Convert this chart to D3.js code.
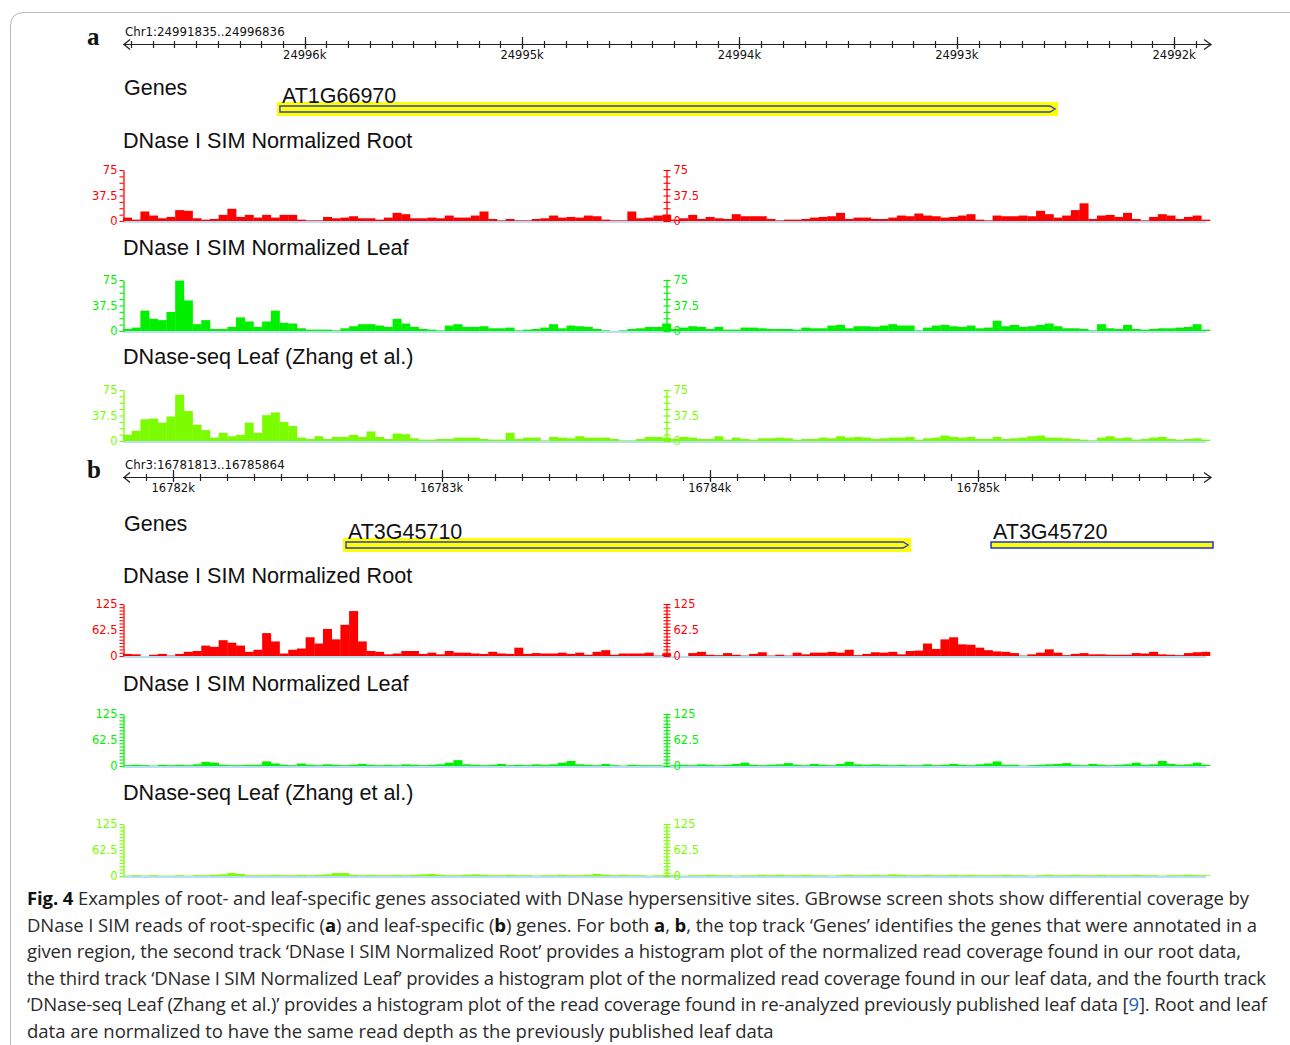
<!DOCTYPE html>
<html><head><meta charset="utf-8">
<script src="https://cdn.jsdelivr.net/npm/d3@7"></script>
<style>body{margin:0;background:#fff}svg{display:block}</style>
</head><body>
<svg id="c" width="1290" height="1045"></svg>
<script>
// ---------------- DATA ----------------
const regionA = ["Chr1", 24991835, 24996836];
const majorTicksA = [24996000, 24995000, 24994000, 24993000, 24992000];
const tickLabelsA = ["24996k", "24995k", "24994k", "24993k", "24992k"];
const regionB = ["Chr3", 16781813, 16785864];
const majorTicksB = [16782000, 16783000, 16784000, 16785000];
const tickLabelsB = ["16782k", "16783k", "16784k", "16785k"];

const geneNamesA = ["AT1G66970"];
const geneStartsA = [24996114];
const geneEndsA = [24992548];
const geneSelectedA = [true];
const geneNamesB = ["AT3G45710", "AT3G45720"];
const geneStartsB = [16782644, 16785048];
const geneEndsB = [16784739, 16786200];
const geneSelectedB = [true, false];

const trackNames = ["DNase I SIM Normalized Root", "DNase I SIM Normalized Leaf", "DNase-seq Leaf (Zhang et al.)"];
const yMaxA = 75, yMaxB = 125;
const yTickLabelsA = ["0", "37.5", "75"];
const yTickLabelsB = ["0", "62.5", "125"];

// histogram bins, left to right across the view (125 bins per panel)
const rootA = [5,2,14,8,4,6,16,15,4,2,3,9,18,6,9,5,9,5,9,9,2,1,1,6,4,5,7,4,4,2,5,12,10,4,4,5,4,8,5,5,8,14,3,1,3,1,1,3,4,8,5,6,5,8,7,2,1,1,14,4,5,8,9,
  2,4,9,3,6,4,3,10,7,7,7,3,1,2,2,3,5,6,7,12,3,5,5,3,3,5,8,7,11,8,7,5,6,8,10,2,1,8,7,7,8,7,15,10,5,8,16,26,3,8,9,6,12,3,1,6,10,8,3,6,8,2];
const leafA = [3,5,30,18,16,28,74,45,10,16,3,3,6,20,14,6,14,30,12,11,4,2,2,2,1,4,7,10,10,8,6,18,11,6,3,2,1,8,10,6,6,7,4,4,5,1,2,3,5,10,4,8,7,6,3,1,0,1,3,4,6,6,11,
  3,5,7,6,3,6,2,2,5,5,4,3,3,3,2,5,4,4,8,9,4,7,7,6,8,10,8,8,1,5,8,9,7,6,8,4,5,15,7,9,6,7,9,11,7,4,4,3,1,10,4,3,9,3,2,3,4,4,5,6,10,2];
const zhangA = [9,15,32,33,27,36,68,44,24,16,5,12,7,9,27,12,38,42,28,22,5,3,7,3,6,6,9,6,14,6,3,11,10,4,2,2,3,3,5,5,5,3,2,2,12,3,5,5,1,6,5,4,7,5,5,5,3,1,1,3,6,6,5,
  3,6,5,3,3,7,2,5,3,2,4,4,5,4,2,3,3,5,4,7,5,6,5,3,4,5,5,6,2,4,5,8,6,5,6,3,3,6,3,4,5,7,8,5,5,4,3,2,1,5,7,4,5,2,3,5,6,3,2,3,4,2];
const rootB = [5,4,0,3,5,1,5,10,12,25,22,38,32,25,10,15,55,35,6,15,18,45,30,65,40,75,108,35,12,10,4,6,12,12,5,8,4,12,8,8,6,5,10,6,5,20,5,7,6,6,8,5,8,3,10,14,3,6,6,6,8,1,6,
  0,0,7,10,3,2,7,3,1,5,9,1,3,1,8,4,8,8,10,8,15,2,5,9,8,10,4,12,13,30,17,40,45,28,27,20,14,11,10,7,1,4,8,16,8,2,5,7,4,4,3,3,3,7,6,10,4,3,2,7,9,10];
const leafB = [2,3,2,1,3,2,3,2,4,10,8,3,2,2,3,3,11,6,3,2,6,3,2,4,3,2,3,5,3,2,3,2,4,3,2,3,4,8,14,4,3,2,3,5,2,3,2,4,3,4,8,12,4,3,2,5,2,1,3,2,2,2,1,
  2,3,2,4,3,2,3,5,8,3,2,3,4,7,3,2,5,3,2,5,10,4,3,4,3,2,3,2,2,4,2,3,5,3,2,4,6,11,3,3,1,2,3,4,5,7,3,2,5,3,2,3,4,8,3,4,12,5,3,4,8,3];
const zhangB = [1,2,1,2,1,1,2,1,2,2,3,4,7,5,2,2,2,3,2,2,3,2,3,4,7,7,3,2,3,2,2,3,2,3,4,5,3,2,2,3,4,3,2,2,3,2,2,1,2,2,3,2,2,3,5,3,2,3,2,2,1,2,2,
  2,1,2,2,3,2,2,1,2,2,3,2,3,2,2,3,2,2,1,2,3,2,2,3,2,4,3,2,2,3,2,2,3,2,3,2,2,2,3,2,2,1,2,3,2,2,3,2,2,3,2,2,2,3,2,2,1,2,2,3,2,2];

const captionLines = [
  [["Fig. 4", true], ["  Examples of root- and leaf-specific genes associated with DNase hypersensitive sites. GBrowse screen shots show differential coverage by", false]],
  [["DNase I SIM reads of root-specific (", false], ["a", true], [") and leaf-specific (", false], ["b", true], [") genes. For both ", false], ["a", true], [", ", false], ["b", true], [", the top track \u2018Genes\u2019 identifies the genes that were annotated in a", false]],
  [["given region, the second track \u2018DNase I SIM Normalized Root\u2019 provides a histogram plot of the normalized read coverage found in our root data,", false]],
  [["the third track \u2018DNase I SIM Normalized Leaf\u2019 provides a histogram plot of the normalized read coverage found in our leaf data, and the fourth track", false]],
  [["\u2018DNase-seq Leaf (Zhang et al.)\u2019 provides a histogram plot of the read coverage found in re-analyzed previously published leaf data [", false], ["9", "link"], ["]. Root and leaf", false]],
  [["data are normalized to have the same read depth as the previously published leaf data", false]]
];

// ---------------- DRAWING ----------------
const svg = d3.select("#c");
const X0 = 123, X1 = 1210;
const trackColors = ["#ff0000", "#00f000", "#7cfc00"];
const baseColor = "#9fd3f5";

// outer frame
svg.append("path").attr("d", "M10.5,1045 V26 Q10.5,12.5 24,12.5 H1290")
  .attr("fill", "none").attr("stroke", "#b8b8b8").attr("stroke-width", 1);

function drawPanel(p) {
  const g = svg.append("g");
  const [chr, start, end] = p.region;
  const x = d3.scaleLinear().domain(p.reversed ? [end, start] : [start, end]).range([X0, X1]);
  const ay = p.axisY;

  // panel letter
  g.append("text").attr("x", 87).attr("y", ay + 1).text(p.letter)
    .attr("font-family", "Liberation Serif, serif").attr("font-weight", "bold").attr("font-size", 25).attr("fill", "#111");

  // ruler
  g.append("text").attr("x", 125).attr("y", ay - 8).text(`${chr}:${start}..${end}`)
    .attr("font-family", "DejaVu Sans").attr("font-size", 11.8).attr("fill", "#111");
  g.append("line").attr("x1", X0).attr("x2", X1 + 1).attr("y1", ay + 0.5).attr("y2", ay + 0.5).attr("stroke", "#222").attr("stroke-width", 1.2);
  g.append("path").attr("d", `M${X0 + 7},${ay - 4.5}L${X0 + 1},${ay + 0.5}L${X0 + 7},${ay + 5.5}`).attr("fill", "none").attr("stroke", "#222").attr("stroke-width", 1.3);
  g.append("path").attr("d", `M${X1 - 6},${ay - 4.5}L${X1 + 1},${ay + 0.5}L${X1 - 6},${ay + 5.5}`).attr("fill", "none").attr("stroke", "#222").attr("stroke-width", 1.3);
  const minor = d3.range(Math.ceil(start / 100) * 100, end, 100);
  g.selectAll(null).data(minor).enter().append("line")
    .attr("x1", d => Math.round(x(d)) + 0.5).attr("x2", d => Math.round(x(d)) + 0.5)
    .attr("y1", ay - 3).attr("y2", ay + 4).attr("stroke", "#222").attr("stroke-width", 1.2);
  g.selectAll(null).data(p.majors).enter().append("line")
    .attr("x1", d => Math.round(x(d)) + 0.5).attr("x2", d => Math.round(x(d)) + 0.5)
    .attr("y1", ay - 7).attr("y2", ay + 5).attr("stroke", "#222").attr("stroke-width", 1.2);
  g.selectAll(null).data(p.majors).enter().append("text")
    .attr("x", d => x(d)).attr("y", ay + 15).attr("text-anchor", "middle")
    .text((d, i) => p.majorLabels[i])
    .attr("font-family", "DejaVu Sans").attr("font-size", 11.5).attr("fill", "#111");

  // genes track
  g.append("text").attr("x", 124).attr("y", p.genesY + 7).text("Genes")
    .attr("font-family", "Liberation Sans, Arial").attr("font-size", 21.5).attr("fill", "#111");
  p.geneNames.forEach((nm, i) => {
    const a = x(p.geneStarts[i]), b = Math.min(x(p.geneEnds[i]), X1 + 3);
    const gx0 = Math.min(a, b), gx1 = Math.max(a, b);
    const cy = p.genesY + 21;
    if (p.geneSel[i]) {
      g.append("rect").attr("x", gx0 - 3).attr("y", cy - 7).attr("width", gx1 - gx0 + 6).attr("height", 14).attr("fill", "#ffff00");
      g.append("path").attr("d", `M${gx0},${cy - 3}H${gx1 - 5}L${gx1},${cy}L${gx1 - 5},${cy + 3}H${gx0}Z`)
        .attr("fill", "#ffff00").attr("stroke", "#2b3fd0").attr("stroke-width", 1.4);
    } else {
      g.append("rect").attr("x", gx0).attr("y", cy - 3).attr("width", gx1 - gx0).attr("height", 6)
        .attr("fill", "#ffff00").attr("stroke", "#2b3fd0").attr("stroke-width", 1.6);
    }
    g.append("text").attr("x", gx0 + 2).attr("y", cy - 6).text(nm)
      .attr("font-family", "Liberation Sans, Arial").attr("font-size", 21.5).attr("fill", "#111");
  });

  // histogram tracks
  p.tracks.forEach((vals, t) => {
    const top = p.trackTops[t], base = top + p.trackH;
    const col = trackColors[t];
    const y = d3.scaleLinear().domain([0, p.yMax]).range([base, top]);
    g.append("text").attr("x", 123).attr("y", p.titleYs[t] + 7).text(trackNames[t])
      .attr("font-family", "Liberation Sans, Arial").attr("font-size", 21.6).attr("fill", "#111");

    const n = vals.length;
    const bw = (end - start) / n;
    const bins = vals.map((v, i) => {
      const b0 = p.reversed ? end - i * bw : start + i * bw;
      const b1 = p.reversed ? end - (i + 1) * bw : start + (i + 1) * bw;
      return { v, xa: Math.min(x(b0), x(b1)), xb: Math.max(x(b0), x(b1)) };
    });
    // baseline
    g.append("line").attr("x1", X0).attr("x2", X1 - 4).attr("y1", base + 1).attr("y2", base + 1)
      .attr("stroke", baseColor).attr("stroke-width", 1.6);
    g.selectAll(null).data(bins.filter(d => d.v > 0)).enter().append("rect")
      .attr("x", d => d.xa).attr("width", d => d.xb - d.xa + 0.3)
      .attr("y", d => y(d.v)).attr("height", d => y(0) - y(d.v)).attr("fill", col);

    const tickVals = d3.range(0, p.yMax + 1e-6, p.yMax / p.yTickDiv);
    const lab = d => (d === 0 ? p.yLabels[0] : Math.abs(d - p.yMax / 2) < 1e-6 ? p.yLabels[1] : Math.abs(d - p.yMax) < 1e-6 ? p.yLabels[2] : "");
    const la = g.append("g").attr("transform", `translate(${X0 + 0.5},0)`)
      .call(d3.axisLeft(y).tickValues(tickVals).tickSize(4).tickSizeOuter(0).tickPadding(2).tickFormat(lab));
    const ra = g.append("g").attr("transform", `translate(666.5,0)`)
      .call(d3.axisRight(y).tickValues(tickVals).tickSize(4).tickSizeOuter(0).tickPadding(3).tickFormat(lab));
    ra.selectAll(".tick line").attr("x1", -3);
    [la, ra].forEach(ax => {
      ax.select(".domain").attr("stroke", col).attr("stroke-width", 1.3);
      ax.selectAll(".tick line").attr("stroke", col).attr("stroke-width", 1.1);
      ax.selectAll("text").attr("fill", col).attr("font-family", "DejaVu Sans").attr("font-size", 11.5);
    });
  });
}

drawPanel({
  letter: "a", region: regionA, reversed: true, axisY: 44, majors: majorTicksA, majorLabels: tickLabelsA,
  genesY: 88, geneNames: geneNamesA, geneStarts: geneStartsA, geneEnds: geneEndsA, geneSel: geneSelectedA,
  tracks: [rootA, leafA, zhangA], trackTops: [170, 280, 390], trackH: 51, titleYs: [141, 248, 357],
  yMax: yMaxA, yLabels: yTickLabelsA, yTickDiv: 8
});
drawPanel({
  letter: "b", region: regionB, reversed: false, axisY: 477, majors: majorTicksB, majorLabels: tickLabelsB,
  genesY: 524, geneNames: geneNamesB, geneStarts: geneStartsB, geneEnds: geneEndsB, geneSel: geneSelectedB,
  tracks: [rootB, leafB, zhangB], trackTops: [604, 714, 824], trackH: 52, titleYs: [576, 684, 793],
  yMax: yMaxB, yLabels: yTickLabelsB, yTickDiv: 16
});

// caption
const lineEnds = [1249, 1257, 1241, 1266, 1267, null];
captionLines.forEach((segs, i) => {
  const t = svg.append("text").attr("x", 27).attr("y", 905 + i * 26.6)
    .attr("font-family", "Open Sans, Noto Sans").attr("font-size", 18.5).attr("fill", "#2a2a2a");
  if (lineEnds[i]) t.attr("textLength", lineEnds[i] - 27).attr("lengthAdjust", "spacing");
  segs.forEach(([s, st]) => {
    const ts = t.append("tspan").text(s);
    if (st === true) ts.attr("font-weight", "bold").attr("fill", "#111");
    if (st === "link") ts.attr("fill", "#1a5fb4");
  });
});
</script>
</body></html>
